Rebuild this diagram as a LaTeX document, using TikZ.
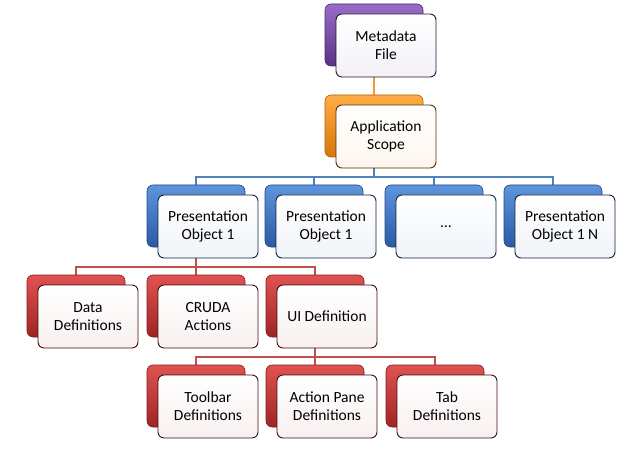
\documentclass[tikz,border=0pt]{standalone}
\usepackage{fontspec}
\setmainfont{Carlito}
\pgfdeclarelayer{bg}
\pgfsetlayers{bg,main}
\definecolor{purpA}{HTML}{9A6CC8}\definecolor{purpM}{HTML}{7A4AA6}\definecolor{purpB}{HTML}{5A3284}
\definecolor{oranA}{HTML}{FFAE45}\definecolor{oranM}{HTML}{F39019}\definecolor{oranB}{HTML}{D8740A}
\definecolor{blueA}{HTML}{5E95DC}\definecolor{blueM}{HTML}{3C78C8}\definecolor{blueB}{HTML}{2A5AA4}
\definecolor{redA}{HTML}{E05252}\definecolor{redM}{HTML}{C63434}\definecolor{redB}{HTML}{A02424}
\definecolor{oranL}{HTML}{F7973A}
\definecolor{blueL}{HTML}{4F81BD}
\definecolor{redL}{HTML}{C0504D}
\tikzset{
  backbox/.style n args={3}{draw=#3!80!black, line width=0.6pt, rounded corners=6pt,
    top color=#1, middle color=#2, bottom color=#3, minimum width=98pt, minimum height=62pt, inner sep=0pt},
  frontbox/.style={draw=#1!40!black, line width=0.9pt, rounded corners=6pt,
    top color=white, bottom color=#1!7!white, minimum width=100pt, minimum height=63pt,
    inner sep=2pt, align=center, font=\fontsize{15.5}{18}\selectfont},
  conn/.style={draw=#1, line width=2pt},
}
% \orgbox{name}{x}{y}{colA}{colM}{colB}{text}
\newcommand\orgbox[7]{%
  \node[backbox={#4}{#5}{#6}] (#1-b) at (#2+49,#3+31) {};
  \node[frontbox=#6] (#1) at (#2+61,#3+41.5) {#7};
}
\begin{document}
\begin{tikzpicture}[x=1pt,y=-1pt]
\useasboundingbox (0,0) rectangle (642,449);
\orgbox{md}{325}{4}{purpA}{purpM}{purpB}{Metadata\\File}
\orgbox{ap}{325}{95}{oranA}{oranM}{oranB}{Application\\Scope}
\orgbox{pa}{147}{185}{blueA}{blueM}{blueB}{Presentation\\Object 1}
\orgbox{pb}{265}{185}{blueA}{blueM}{blueB}{Presentation\\Object 1}
\orgbox{pc}{385}{185}{blueA}{blueM}{blueB}{…}
\orgbox{pd}{504}{185}{blueA}{blueM}{blueB}{Presentation\\Object 1 N}
\orgbox{dd}{27}{275}{redA}{redM}{redB}{Data\\Definitions}
\orgbox{ca}{147}{275}{redA}{redM}{redB}{CRUDA\\Actions}
\orgbox{ui}{266}{275}{redA}{redM}{redB}{UI Definition}
\orgbox{tb}{147}{365}{redA}{redM}{redB}{Toolbar\\Definitions}
\orgbox{apd}{266}{365}{redA}{redM}{redB}{Action Pane\\Definitions}
\orgbox{tdf}{386}{365}{redA}{redM}{redB}{Tab\\Definitions}
\begin{pgfonlayer}{bg}
\draw[conn=oranL] (md-b.south) -- (ap-b.north);
\foreach \t in {pa,pb,pc,pd}
  \draw[conn=blueL] (ap-b.south) -- ++(0,20) -| (\t-b.north);
\foreach \t in {dd,ca,ui}
  \draw[conn=redL] (pa-b.south) -- ++(0,20) -| (\t-b.north);
\foreach \t in {tb,apd,tdf}
  \draw[conn=redL] (ui-b.south) -- ++(0,20) -| (\t-b.north);
\end{pgfonlayer}
\end{tikzpicture}
\end{document}
